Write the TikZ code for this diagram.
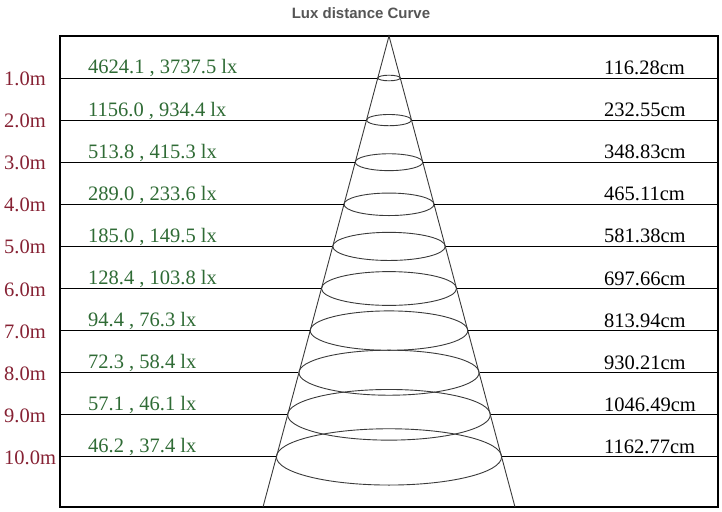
\documentclass[tikz,border=0pt]{standalone}
\usepackage{fontspec}
\setmainfont{Liberation Serif}
\newfontfamily\titlefont{Liberation Sans}
\usetikzlibrary{shapes.geometric}
\definecolor{luxgreen}{HTML}{2F6B35}
\definecolor{mred}{HTML}{862133}
\definecolor{titlegray}{HTML}{555555}
\definecolor{conegray}{HTML}{3A3A3A}
\begin{document}
\begin{tikzpicture}[x=1pt,y=-1pt,
  framestyle/.style={draw=black,line width=1.1pt},
  gridline/.style={draw=black,line width=1pt},
  conestyle/.style={draw=conegray,line width=0.9pt},
  ring/.style={ellipse,draw=conegray,line width=0.9pt,inner sep=0pt,fill=none},
  lbltext/.style={font=\fontsize{20.5}{24}\selectfont,text=mred,inner sep=0pt,anchor=base west},
  luxtext/.style={font=\fontsize{20.5}{24}\selectfont,text=luxgreen,inner sep=0pt,anchor=base west},
  disttext/.style={font=\fontsize{20.5}{24}\selectfont,text=black,inner sep=0pt,anchor=base west},
  titletext/.style={font=\titlefont\bfseries\fontsize{15}{18}\selectfont,text=titlegray,inner sep=0pt}
]
\useasboundingbox (0,0) rectangle (722,511);
\node[titletext] (title) at (361,13.5) {Lux distance Curve};
% frame
\coordinate (ftl) at (60,36);
\coordinate (fbr) at (718,507);
\draw[framestyle] (ftl) rectangle (fbr);
% cone
\coordinate (apex) at (389,36);
\coordinate (bl) at (263,507);
\coordinate (br) at (515,507);
\draw[conestyle] (bl) -- (apex) -- (br);
\foreach \k/\lbl/\lux/\dist in {
  1/1.0m/{4624.1 , 3737.5 lx}/116.28cm,
  2/2.0m/{1156.0 , 934.4 lx}/232.55cm,
  3/3.0m/{513.8 , 415.3 lx}/348.83cm,
  4/4.0m/{289.0 , 233.6 lx}/465.11cm,
  5/5.0m/{185.0 , 149.5 lx}/581.38cm,
  6/6.0m/{128.4 , 103.8 lx}/697.66cm,
  7/7.0m/{94.4 , 76.3 lx}/813.94cm,
  8/8.0m/{72.3 , 58.4 lx}/930.21cm,
  9/9.0m/{57.1 , 46.1 lx}/1046.49cm,
  10/10.0m/{46.2 , 37.4 lx}/1162.77cm}{
  \pgfmathsetmacro{\yy}{78+(\k-1)*42.1}
  \pgfmathsetmacro{\rx}{(\yy-36)*0.2675}
  \pgfmathsetmacro{\ry}{0.25*\rx}
  \node[ring,minimum width=2*\rx pt,minimum height=2*\ry pt] (ring\k) at (389,\yy) {};
  \coordinate (gl\k) at (60,\yy);
  \coordinate (gr\k) at (718,\yy);
  \draw[gridline] (gl\k) -- (ring\k.west);
  \draw[gridline] (ring\k.east) -- (gr\k);
  \node[lbltext] (lbl\k) at (4,\yy+7.5) {\lbl};
  \node[luxtext] (lux\k) at (88,\yy-4) {\lux};
  \node[disttext] (dist\k) at (604,\yy-3.5) {\dist};
}
\end{tikzpicture}
\end{document}
